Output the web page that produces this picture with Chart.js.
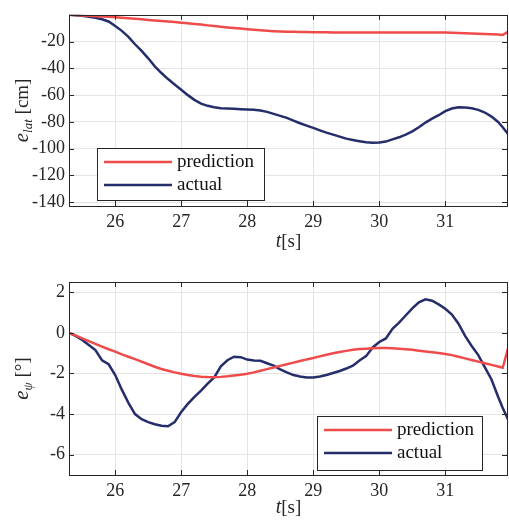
<!DOCTYPE html>
<html>
<head>
<meta charset="utf-8">
<script src="https://cdn.jsdelivr.net/npm/chart.js@4.4.1/dist/chart.umd.min.js"></script>
<style>
  body { margin: 0; background: #fff; }
  .wrap { position: absolute; left: 0; width: 509px; height: 260px; }
</style>
</head>
<body>
<div class="wrap" style="top:0"><canvas id="latChart" width="509" height="260"></canvas></div>
<div class="wrap" style="top:260px"><canvas id="headingChart" width="509" height="260"></canvas></div>
<script>
const time = [25.3, 25.4, 25.5, 25.6, 25.7, 25.8, 25.9, 26.0, 26.1, 26.2, 26.3, 26.4, 26.5, 26.6, 26.7, 26.8, 26.9,
    27.0, 27.1, 27.2, 27.3, 27.4, 27.5, 27.6, 27.7, 27.8, 27.9, 28.0, 28.1, 28.2, 28.3, 28.4, 28.5, 28.6, 28.7, 28.8, 28.9,
    29.0, 29.1, 29.2, 29.3, 29.4, 29.5, 29.6, 29.7, 29.8, 29.9, 30.0, 30.1, 30.2, 30.3, 30.4, 30.5, 30.6, 30.7, 30.8, 30.9,
    31.0, 31.1, 31.2, 31.3, 31.4, 31.5, 31.6, 31.7, 31.8, 31.87, 31.95];

// lateral error [cm]
const latPrediction = [0, -0.2, -0.5, -0.8, -1.1, -1.3, -1.5, -1.8, -2.2, -2.6, -3.0, -3.4, -3.8, -4.2, -4.6, -5.0, -5.4,
    -5.9, -6.3, -6.8, -7.3, -7.9, -8.4, -8.9, -9.4, -9.9, -10.3, -10.8, -11.2, -11.6, -11.9, -12.2, -12.4, -12.6, -12.7, -12.8, -12.9,
    -13.0, -13.1, -13.1, -13.2, -13.2, -13.2, -13.2, -13.2, -13.2, -13.2, -13.2, -13.2, -13.2, -13.2, -13.2, -13.2, -13.2, -13.2, -13.2, -13.3,
    -13.3, -13.4, -13.6, -13.8, -14.0, -14.2, -14.4, -14.6, -14.8, -15.0, -12.8];
const latActual = [0, -0.3, -0.8, -1.5, -2.2, -3.3, -5, -8.3, -12, -16.5, -22, -27, -32.5, -38.5, -43.5, -48, -52,
    -56, -60, -63.5, -66.3, -68, -69, -69.8, -70, -70.2, -70.5, -70.8, -71, -71.5, -72.5, -74, -75.5, -77, -79, -81, -82.8,
    -84.5, -86.3, -88, -89.5, -91, -92.5, -93.5, -94.4, -95.2, -95.6, -95.3, -94.7, -93, -91.5, -89.5, -87, -84, -80.5, -77.5, -75,
    -72, -70, -69, -69.2, -69.8, -71, -73, -76, -80, -84, -89];

// heading error [deg]
const headingPrediction = [0, -0.13, -0.27, -0.41, -0.55, -0.68, -0.81, -0.93, -1.06, -1.18, -1.30, -1.42, -1.55, -1.67, -1.78, -1.87, -1.95,
    -2.02, -2.08, -2.13, -2.16, -2.18, -2.19, -2.17, -2.14, -2.10, -2.06, -2.02, -1.95, -1.87, -1.79, -1.71, -1.63, -1.55, -1.47, -1.39, -1.31,
    -1.24, -1.16, -1.08, -1.01, -0.95, -0.89, -0.84, -0.80, -0.78, -0.76, -0.75, -0.75, -0.76, -0.78, -0.81, -0.84, -0.88, -0.92, -0.96, -1.00,
    -1.04, -1.10, -1.18, -1.26, -1.34, -1.42, -1.50, -1.58, -1.66, -1.72, -0.76];
const headingActual = [0, -0.15, -0.35, -0.6, -0.85, -1.35, -1.55, -2.08, -2.8, -3.45, -4.0, -4.25, -4.4, -4.5, -4.58, -4.6, -4.4,
    -3.9, -3.5, -3.15, -2.85, -2.5, -2.2, -1.65, -1.35, -1.18, -1.2, -1.32, -1.36, -1.38, -1.5, -1.62, -1.8, -1.95, -2.08, -2.15, -2.2,
    -2.2, -2.15, -2.08, -1.98, -1.88, -1.76, -1.62, -1.36, -1.15, -0.72, -0.45, -0.28, 0.2, 0.5, 0.85, 1.2, 1.5, 1.65, 1.58, 1.4,
    1.18, 0.9, 0.45, -0.15, -0.65, -1.1, -1.7, -2.3, -3.15, -3.7, -4.25];

const timeTicks = [26, 27, 28, 29, 30, 31];
const latTicks = [-140, -120, -100, -80, -60, -40, -20];
const headingTicks = [-6, -4, -2, 0, 2];
const seriesNames = ['prediction', 'actual'];

const RED = '#ef4b4b';
const BLUE = '#252e6b';
const INK = '#262626';
const SERIF = "'Liberation Serif', 'DejaVu Serif', serif";

function pairs(values) {
    return time.map((t, i) => ({ x: t, y: values[i] }));
}

// box, inward ticks, axis titles and the boxed legend (MATLAB look)
const matlabLook = {
    id: 'matlabLook',
    afterDraw(chart, args, opts) {
        const ctx = chart.ctx;
        const a = chart.chartArea;
        const xs = chart.scales.x, ys = chart.scales.y;
        ctx.save();
        ctx.strokeStyle = INK;
        ctx.lineWidth = 1;
        ctx.strokeRect(Math.round(a.left) + 0.5, Math.round(a.top) + 0.5,
            Math.round(a.right - a.left) - 1, Math.round(a.bottom - a.top));
        ctx.beginPath();
        xs.ticks.forEach(t => {
            const px = Math.round(xs.getPixelForValue(t.value)) + 0.5;
            ctx.moveTo(px, a.top); ctx.lineTo(px, a.top + 5);
            ctx.moveTo(px, a.bottom); ctx.lineTo(px, a.bottom - 5);
        });
        ys.ticks.forEach(t => {
            const py = Math.round(ys.getPixelForValue(t.value)) + 0.5;
            ctx.moveTo(a.left, py); ctx.lineTo(a.left + 5, py);
            ctx.moveTo(a.right - 1, py); ctx.lineTo(a.right - 6, py);
        });
        ctx.stroke();

        // x title  t[s]
        ctx.fillStyle = INK;
        const xParts = [
            { text: 't', font: 'italic 20px ' + SERIF, dy: 0 },
            { text: '[s]', font: '19px ' + SERIF, dy: 0 }
        ];
        drawParts(ctx, xParts, (a.left + a.right) / 2, a.bottom + opts.xTitleGap);

        // y title, rotated
        ctx.save();
        ctx.translate(28, (a.top + a.bottom) / 2);
        ctx.rotate(-Math.PI / 2);
        drawParts(ctx, opts.yParts, 0, 0);
        ctx.restore();

        // legend
        const lg = opts.legend;
        const bx = lg.fromRight ? a.right - lg.right - lg.width : a.left + lg.left;
        const by = a.bottom - lg.bottom - lg.height;
        ctx.fillStyle = '#fff';
        ctx.fillRect(bx, by, lg.width, lg.height);
        ctx.strokeStyle = INK;
        ctx.lineWidth = 1;
        ctx.strokeRect(Math.round(bx) + 0.5, Math.round(by) + 0.5, lg.width, lg.height);
        chart.data.datasets.forEach((ds, i) => {
            const ry = by + 14 + i * 23;
            ctx.strokeStyle = ds.borderColor;
            ctx.lineWidth = 2.5;
            ctx.beginPath();
            ctx.moveTo(bx + 7, ry); ctx.lineTo(bx + 75, ry);
            ctx.stroke();
            ctx.fillStyle = '#111';
            ctx.font = '19px ' + SERIF;
            ctx.textBaseline = 'middle';
            ctx.textAlign = 'left';
            ctx.fillText(ds.label, bx + 80, ry);
        });
        ctx.restore();
    }
};

function drawParts(ctx, parts, cx, baseY) {
    let total = 0;
    parts.forEach(p => { ctx.font = p.font; total += ctx.measureText(p.text).width; });
    let x = cx - total / 2;
    ctx.textAlign = 'left';
    ctx.textBaseline = 'alphabetic';
    parts.forEach(p => {
        ctx.font = p.font;
        ctx.fillText(p.text, x, baseY + p.dy);
        x += ctx.measureText(p.text).width;
    });
}

function makeChart(canvasId, pred, act, yMin, yMax, yTicks, topPad, xHeight, extra) {
    const ctx = document.getElementById(canvasId).getContext('2d');
    return new Chart(ctx, {
        type: 'line',
        data: {
            datasets: [
                { label: seriesNames[0], data: pairs(pred), borderColor: RED, borderWidth: 2.5, pointRadius: 0, tension: 0 },
                { label: seriesNames[1], data: pairs(act), borderColor: BLUE, borderWidth: 2.5, pointRadius: 0, tension: 0 }
            ]
        },
        options: {
            responsive: false,
            animation: false,
            layout: { padding: { top: topPad, right: 1, left: 0, bottom: 0 } },
            scales: {
                x: {
                    type: 'linear',
                    min: 25.3,
                    max: 31.95,
                    afterBuildTicks: axis => { axis.ticks = timeTicks.map(v => ({ value: v })); },
                    afterFit: axis => { axis.height = xHeight; },
                    grid: { color: '#e4e4e4', drawTicks: false },
                    border: { display: false },
                    ticks: {
                        padding: 5,
                        color: INK,
                        font: { family: SERIF, size: 18 },
                        maxRotation: 0,
                        callback: v => String(v)
                    }
                },
                y: {
                    min: yMin,
                    max: yMax,
                    afterBuildTicks: axis => { axis.ticks = yTicks.map(v => ({ value: v })); },
                    afterFit: axis => { axis.width = 69; },
                    grid: { color: '#e4e4e4', drawTicks: false },
                    border: { display: false },
                    ticks: {
                        padding: 4,
                        color: INK,
                        font: { family: SERIF, size: 18 },
                        callback: v => String(v)
                    }
                }
            },
            plugins: {
                legend: { display: false },
                tooltip: { enabled: false },
                matlabLook: extra
            }
        },
        plugins: [matlabLook]
    });
}

makeChart('latChart', latPrediction, latActual, -142.8, 0, latTicks, 12, 54, {
    xTitleGap: 41,
    yParts: [
        { text: 'e', font: 'italic 21px ' + SERIF, dy: 0 },
        { text: 'lat', font: 'italic 13px ' + SERIF, dy: 4 },
        { text: ' [cm]', font: '19px ' + SERIF, dy: 0 }
    ],
    legend: { left: 28, bottom: 6, width: 167, height: 52 }
});

makeChart('headingChart', headingPrediction, headingActual, -7, 2.5, headingTicks, 22, 45, {
    xTitleGap: 38,
    yParts: [
        { text: 'e', font: 'italic 21px ' + SERIF, dy: 0 },
        { text: 'ψ', font: 'italic 13px ' + SERIF, dy: 4 },
        { text: ' [°]', font: '19px ' + SERIF, dy: 0 }
    ],
    legend: { fromRight: true, right: 26, bottom: 5, width: 165, height: 54 }
});
</script>
</body>
</html>
